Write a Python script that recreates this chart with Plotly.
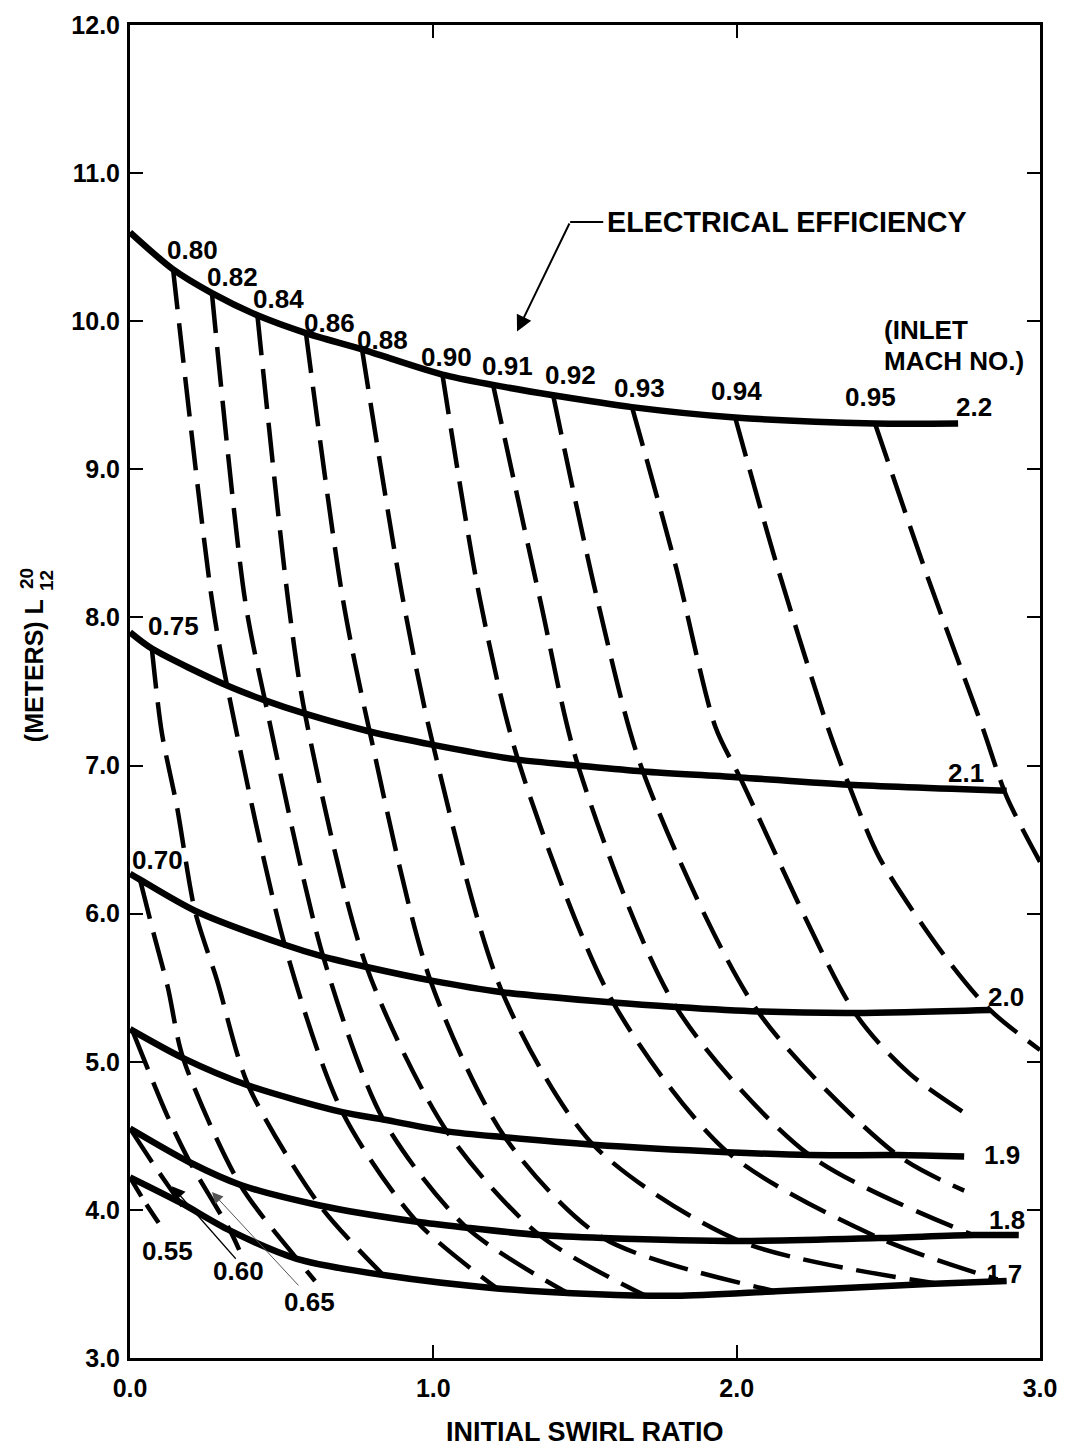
import plotly.graph_objects as go

# ---- Solid curves: constant inlet Mach number (swirl ratio, L in meters)
mach_labels = ["2.2", "2.1", "2.0", "1.9", "1.8", "1.7"]
mach_22_x = [0.0, 0.142, 0.27, 0.42, 0.58, 0.765, 1.03, 1.197, 1.395, 1.655, 1.995, 2.456, 2.73]
mach_22_y = [10.6, 10.35, 10.19, 10.04, 9.92, 9.81, 9.64, 9.57, 9.50, 9.42, 9.35, 9.31, 9.31]
mach_21_x = [0.0, 0.072, 0.32, 0.445, 0.577, 0.79, 0.999, 1.279, 1.477, 1.691, 2.011, 2.37, 2.89]
mach_21_y = [7.9, 7.79, 7.54, 7.44, 7.35, 7.23, 7.14, 7.04, 7.00, 6.96, 6.92, 6.87, 6.83]
mach_20_x = [0.0, 0.033, 0.214, 0.51, 0.637, 0.78, 0.99, 1.227, 1.593, 1.80, 2.07, 2.39, 2.835]
mach_20_y = [6.27, 6.23, 6.02, 5.79, 5.71, 5.64, 5.55, 5.47, 5.40, 5.37, 5.34, 5.33, 5.35]
mach_19_x = [0.0, 0.175, 0.39, 0.70, 0.835, 1.045, 1.236, 1.527, 1.97, 2.24, 2.53, 2.75]
mach_19_y = [5.22, 5.025, 4.84, 4.66, 4.61, 4.53, 4.49, 4.44, 4.39, 4.37, 4.37, 4.36]
mach_18_x = [0.0, 0.198, 0.363, 0.626, 0.946, 1.11, 1.35, 1.56, 2.01, 2.47, 2.78, 2.93]
mach_18_y = [4.55, 4.32, 4.17, 4.03, 3.92, 3.88, 3.83, 3.81, 3.79, 3.81, 3.83, 3.83]
mach_17_x = [0.0, 0.165, 0.33, 0.55, 0.835, 1.21, 1.54, 1.8, 2.13, 2.63, 2.89]
mach_17_y = [4.22, 4.05, 3.86, 3.67, 3.56, 3.47, 3.43, 3.42, 3.45, 3.50, 3.52]

# ---- Dashed curves: constant electrical efficiency
eff_055_x = [0.0, 0.05, 0.105]
eff_055_y = [4.22, 4.05, 3.88]
eff_060_x = [0.0, 0.08, 0.165, 0.20]
eff_060_y = [4.55, 4.30, 4.05, 3.95]
eff_065_x = [0.01, 0.122, 0.198, 0.33, 0.36]
eff_065_y = [5.20, 4.64, 4.32, 3.86, 3.73]
eff_070_x = [0.033, 0.08, 0.125, 0.175, 0.363, 0.55, 0.61]
eff_070_y = [6.23, 5.85, 5.50, 5.025, 4.17, 3.67, 3.52]
eff_075_x = [0.072, 0.105, 0.155, 0.214, 0.287, 0.39, 0.626, 0.835]
eff_075_y = [7.79, 7.22, 6.72, 6.02, 5.55, 4.84, 4.03, 3.56]
eff_080_x = [0.142, 0.27, 0.32, 0.51, 0.70, 0.946, 1.21]
eff_080_y = [10.35, 8.12, 7.54, 5.79, 4.66, 3.92, 3.47]
eff_082_x = [0.27, 0.379, 0.445, 0.637, 0.835, 1.11, 1.45]
eff_082_y = [10.19, 8.12, 7.44, 5.71, 4.61, 3.88, 3.43]
eff_084_x = [0.42, 0.521, 0.577, 0.78, 1.045, 1.35, 1.70]
eff_084_y = [10.04, 8.12, 7.35, 5.64, 4.53, 3.83, 3.42]
eff_086_x = [0.58, 0.702, 0.79, 0.99, 1.236, 1.56, 2.13]
eff_086_y = [9.92, 8.12, 7.23, 5.55, 4.49, 3.81, 3.45]
eff_088_x = [0.765, 0.900, 0.999, 1.227, 1.527, 2.01, 2.67]
eff_088_y = [9.81, 8.12, 7.14, 5.47, 4.44, 3.79, 3.50]
eff_090_x = [1.03, 1.154, 1.279, 1.593, 1.97, 2.47, 2.86]
eff_090_y = [9.64, 8.12, 7.04, 5.40, 4.39, 3.81, 3.53]
eff_091_x = [1.197, 1.352, 1.477, 1.80, 2.24, 2.78]
eff_091_y = [9.57, 8.12, 7.00, 5.37, 4.37, 3.83]
eff_092_x = [1.395, 1.543, 1.691, 2.07, 2.53, 2.75]
eff_092_y = [9.50, 8.10, 6.96, 5.34, 4.37, 4.13]
eff_093_x = [1.655, 1.80, 1.93, 2.011, 2.39, 2.57, 2.77]
eff_093_y = [9.42, 8.34, 7.26, 6.92, 5.33, 4.92, 4.63]
eff_094_x = [1.995, 2.13, 2.30, 2.37, 2.47, 2.68, 2.835, 3.0]
eff_094_y = [9.35, 8.37, 7.26, 6.87, 6.38, 5.73, 5.35, 5.08]
eff_095_x = [2.456, 2.63, 2.81, 2.89, 3.0]
eff_095_y = [9.31, 8.27, 7.26, 6.79, 6.35]

y_ticks = [3.0, 4.0, 5.0, 6.0, 7.0, 8.0, 9.0, 10.0, 11.0, 12.0]
x_ticks = [0.0, 1.0, 2.0, 3.0]

solid = [
    (mach_22_x, mach_22_y), (mach_21_x, mach_21_y), (mach_20_x, mach_20_y),
    (mach_19_x, mach_19_y), (mach_18_x, mach_18_y), (mach_17_x, mach_17_y),
]
dashed = [
    (eff_055_x, eff_055_y), (eff_060_x, eff_060_y), (eff_065_x, eff_065_y),
    (eff_070_x, eff_070_y), (eff_075_x, eff_075_y), (eff_080_x, eff_080_y),
    (eff_082_x, eff_082_y), (eff_084_x, eff_084_y), (eff_086_x, eff_086_y),
    (eff_088_x, eff_088_y), (eff_090_x, eff_090_y), (eff_091_x, eff_091_y),
    (eff_092_x, eff_092_y), (eff_093_x, eff_093_y), (eff_094_x, eff_094_y),
    (eff_095_x, eff_095_y),
]

FONT = "Liberation Sans"
fig = go.Figure()

for xs, ys in dashed:
    # short curves get a shorter dash so their strokes remain visible
    dash = "22px,10px" if len(xs) <= 3 else "40px,14px"
    fig.add_trace(go.Scatter(
        x=xs, y=ys, mode="lines",
        line=dict(color="black", width=4.5, dash=dash, shape="spline", smoothing=0.8),
        hoverinfo="skip", showlegend=False, cliponaxis=True))

for xs, ys in solid:
    fig.add_trace(go.Scatter(
        x=xs, y=ys, mode="lines",
        line=dict(color="black", width=6.5, shape="spline", smoothing=0.8),
        hoverinfo="skip", showlegend=False))

def label(text, x, y, size=26, **kw):
    fig.add_annotation(x=x, y=y, text=text, showarrow=False,
                       font=dict(family=FONT, size=size, color="black", weight="bold"), **kw)

def side_text(text, x, y, size, angle=-90):
    fig.add_annotation(x=x, y=y, xref="paper", yref="paper", text=text,
                       textangle=angle, showarrow=False, xanchor="center", yanchor="middle",
                       font=dict(family=FONT, size=size, color="black", weight="bold"))

# efficiency labels along the upper curve
label("0.80", 0.205, 10.48)
label("0.82", 0.339, 10.30)
label("0.84", 0.488, 10.15)
label("0.86", 0.659, 9.99)
label("0.88", 0.834, 9.87)
label("0.90", 1.042, 9.76)
label("0.91", 1.246, 9.70)
label("0.92", 1.451, 9.64)
label("0.93", 1.681, 9.55)
label("0.94", 1.999, 9.53)
label("0.95", 2.440, 9.49)
label("0.75", 0.142, 7.94)
label("0.70", 0.089, 6.36)
label("0.55", 0.122, 3.72)
label("0.60", 0.359, 3.59)
label("0.65", 0.593, 3.38)

# Mach number labels
label("2.2", 2.782, 9.42)
label("2.1", 2.756, 6.95)
label("2.0", 2.888, 5.44)
label("1.9", 2.874, 4.37)
label("1.8", 2.891, 3.93)
label("1.7", 2.881, 3.57)
label("(INLET", 2.48, 9.94, xanchor="left")
label("MACH NO.)", 2.48, 9.73, xanchor="left")

label("ELECTRICAL EFFICIENCY", 1.567, 10.67, size=28.7, xanchor="left")

# leader for the efficiency legend
fig.add_shape(type="line", x0=1.451, y0=10.67, x1=1.56, y1=10.67,
              line=dict(color="black", width=2))
fig.add_annotation(x=1.276, y=9.93, ax=1.451, ay=10.67, axref="x", ayref="y",
                   text="", showarrow=True, arrowhead=2, arrowsize=1.6,
                   arrowwidth=2, arrowcolor="black")
# pointers from the low-efficiency labels
fig.add_annotation(x=0.138, y=4.16, ax=0.353, ay=3.66, axref="x", ayref="y",
                   text="", showarrow=True, arrowhead=2, arrowsize=2.2,
                   arrowwidth=1.2, arrowcolor="black")
fig.add_annotation(x=0.27, y=4.12, ax=0.56, ay=3.48, axref="x", ayref="y",
                   text="", showarrow=True, arrowhead=2, arrowsize=2.2,
                   arrowwidth=1, arrowcolor="#555555")

# axis titles
fig.add_annotation(x=0.5, y=-0.0555, xref="paper", yref="paper", text="INITIAL SWIRL RATIO",
                   showarrow=False, xanchor="center", yanchor="middle",
                   font=dict(family=FONT, size=27, color="black", weight="bold"))
side_text("(METERS) L", -0.1055, 0.516, 25)
side_text("20", -0.113, 0.5845, 19)
side_text("12", -0.091, 0.583, 19)

axis_common = dict(
    showgrid=False, zeroline=False, showline=True, linecolor="black", linewidth=3,
    mirror="ticks", ticks="inside", ticklen=13, tickwidth=2, tickcolor="black",
    tickformat=".1f", tickfont=dict(family=FONT, size=25, color="black", weight="bold"),
)
fig.update_xaxes(range=[0, 3], tickvals=x_ticks, ticklabelstandoff=6, **axis_common)
fig.update_yaxes(range=[3, 12], tickvals=y_ticks, ticklabelstandoff=2, **axis_common)

fig.update_layout(
    width=1070, height=1451,
    margin=dict(l=130, r=30, t=25, b=93),
    plot_bgcolor="white", paper_bgcolor="white",
    showlegend=False,
)

fig.write_html("out.html")
